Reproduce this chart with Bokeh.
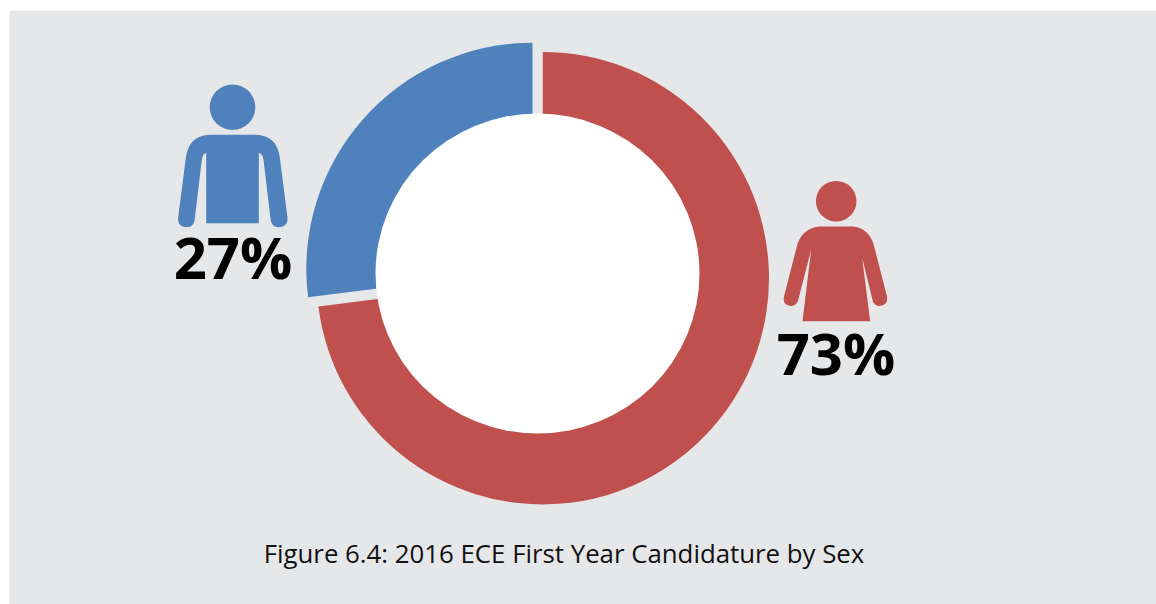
import numpy as np
from bokeh.core.properties import value
from bokeh.embed import file_html
from bokeh.models import Range1d
from bokeh.plotting import figure
from bokeh.resources import INLINE

W, H = 1156, 604

categories = ["Male", "Female"]
shares = [27, 73]
share_labels = ["27%", "73%"]
caption = "Figure 6.4: 2016 ECE First Year Candidature by Sex"

BLUE = "#4F81BD"
RED = "#C0504D"
PANEL = "#E6E7E9"
OUTER_R = 226.2


def Y(py):
    """Convert a downward page coordinate to the upward data coordinate."""
    return H - np.asarray(py, dtype=float)


def outline(start, segments, ox, oy, scale=1 / 3):
    """Sample a closed outline of straight and quadratic segments.

    Each segment is (end) for a line or (control, end) for a curve.
    """
    pts = [np.array(start, dtype=float)]
    for seg in segments:
        if len(seg) == 2 and np.isscalar(seg[0]):
            pts.append(np.array(seg, dtype=float))
        else:
            c, e = np.array(seg[0], float), np.array(seg[1], float)
            a = pts[-1]
            for t in np.linspace(0, 1, 14)[1:]:
                pts.append((1 - t) ** 2 * a + 2 * (1 - t) * t * c + t ** 2 * e)
    arr = np.array(pts)
    return arr[:, 0] * scale + ox, Y(arr[:, 1] * scale + oy)


p = figure(
    width=W, height=H, output_backend="svg", toolbar_location=None,
    x_range=Range1d(0, W), y_range=Range1d(0, H),
    x_axis_type=None, y_axis_type=None, min_border=0,
    background_fill_color="white", border_fill_color="white",
    outline_line_color=None,
)
p.grid.visible = False

# Grey panel behind the whole graphic
p.quad(left=[9], right=[W], top=[Y(10)], bottom=[Y(603.5)], fill_color=PANEL, line_color=None)

# Slices run clockwise from twelve o'clock; the male slice goes first, counter-clockwise
male_sweep = shares[0] / sum(shares) * 2 * np.pi
top = np.pi / 2
p.wedge(x=[532], y=[Y(268.5)], radius=OUTER_R, start_angle=top, end_angle=top + male_sweep,
        fill_color=BLUE, line_color=None)
p.wedge(x=[542.3], y=[Y(277.7)], radius=OUTER_R, start_angle=top + male_sweep, end_angle=top + 2 * np.pi,
        fill_color=RED, line_color=None)

# Hole of the ring, very slightly wider than tall
p.ellipse(x=[537], y=[Y(273)], width=324, height=320, fill_color="white", line_color=None)

# Male figure
mx, my = outline(
    (137, 458),
    [(137, 247), ((127, 250), (124, 268)), (103, 445),
     ((100, 470), (77, 470)), ((50, 468), (53, 440)),
     (76, 262), ((84, 195), (150, 193)), (285, 193),
     ((350, 195), (358, 262)), (381, 440),
     ((383, 469), (355, 470)), ((333, 470), (330, 445)),
     (309, 268), ((306, 250), (295, 247)), (295, 458)],
    160, 70,
)
p.patch(mx, my, fill_color=BLUE, line_color=None)
p.circle(x=[232], y=[Y(106.7)], radius=22.8, fill_color=BLUE, line_color=None)

# Female figure
fx, fy = outline(
    (96, 452),
    [(122, 238), (82, 392),
     ((74, 408), (58, 406)), ((35, 402), (41, 376)),
     (78, 232), ((92, 172), (150, 168)), (245, 168),
     ((298, 172), (312, 232)), (349, 376),
     ((354, 402), (330, 406)), ((314, 408), (307, 392)),
     (275, 262), (299, 452)],
    770, 170,
)
p.patch(fx, fy, fill_color=RED, line_color=None)
p.circle(x=[835.7], y=[Y(200.7)], radius=20.3, fill_color=RED, line_color=None)

# Percentage labels
p.text(x=[232.5, 835.5], y=[Y(256), Y(352)], text=share_labels,
       text_font=value("Open Sans"), text_font_style="bold", text_font_size="58px",
       text_color="black", text_align="center", text_baseline="alphabetic")

# Caption
p.text(x=[563.5], y=[Y(552)], text=[caption],
       text_font=value("Open Sans"), text_font_size="25.8px",
       text_color="#111111", text_align="center", text_baseline="alphabetic")

open("out.html", "w").write(file_html(p, INLINE))
